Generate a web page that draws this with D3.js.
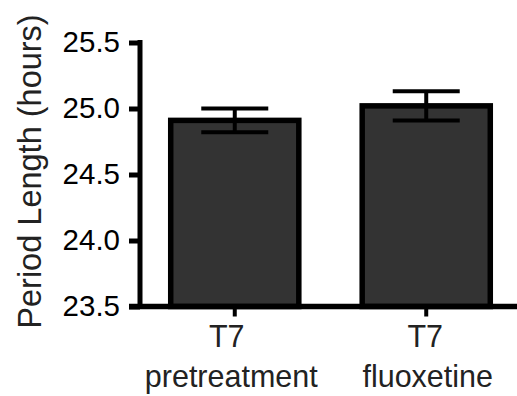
<!DOCTYPE html>
<html>
<head>
<meta charset="utf-8">
<script src="https://cdn.jsdelivr.net/npm/d3@7"></script>
<style>
  html, body { margin: 0; padding: 0; background: #fff; }
  svg { display: block; }
  text { font-family: "Liberation Sans", Arial, Helvetica, sans-serif; }
</style>
</head>
<body>
<svg id="chart" width="517" height="396"></svg>
<script>
const categories = ["T7 pretreatment", "T7 fluoxetine"];
const labelLines = [["T7", "pretreatment"], ["T7", "fluoxetine"]];
const means = [24.91, 25.02];
const sems = [0.09, 0.11];
const yTicks = [23.5, 24.0, 24.5, 25.0, 25.5];
const yLabel = "Period Length (hours)";

const svg = d3.select("#chart");

const y = d3.scaleLinear().domain([23.5, 25.5]).range([306.5, 42.5]);
const x = d3.scaleBand().domain(categories).range([142, 519])
  .paddingInner(0.331).paddingOuter(0.15);

// bars
svg.append("g").selectAll("rect").data(categories).join("rect")
  .attr("x", d => x(d))
  .attr("width", x.bandwidth())
  .attr("y", (d, i) => y(means[i]))
  .attr("height", (d, i) => y(23.5) - y(means[i]))
  .attr("fill", "#333333")
  .attr("stroke", "#000")
  .attr("stroke-width", 5.5);

// error bars
const capW = 67;
const eb = svg.append("g").attr("stroke", "#000").attr("stroke-width", 4);
categories.forEach((c, i) => {
  const cx = x(c) + x.bandwidth() / 2;
  const top = y(means[i] + sems[i]), bot = y(means[i] - sems[i]);
  eb.append("line").attr("x1", cx).attr("x2", cx).attr("y1", top).attr("y2", bot);
  eb.append("line").attr("x1", cx - capW / 2).attr("x2", cx + capW / 2).attr("y1", top).attr("y2", top);
  eb.append("line").attr("x1", cx - capW / 2).attr("x2", cx + capW / 2).attr("y1", bot).attr("y2", bot);
});

// y axis
const yAxis = d3.axisLeft(y).tickValues(yTicks).tickFormat(d3.format(".1f"))
  .tickSize(11).tickPadding(9);
const gy = svg.append("g").attr("transform", "translate(140,0)").call(yAxis);
gy.select(".domain").remove();
gy.selectAll(".tick line").attr("stroke", "#000").attr("stroke-width", 5);
gy.selectAll(".tick text").attr("fill", "#000").attr("font-size", 29.5)
  .attr("font-family", '"Liberation Sans", Arial, sans-serif');
svg.append("line").attr("x1", 140).attr("x2", 140)
  .attr("y1", y(25.5) - 2.5).attr("y2", y(23.5))
  .attr("stroke", "#000").attr("stroke-width", 5);

// x axis
svg.append("line").attr("x1", 129).attr("x2", 517)
  .attr("y1", y(23.5)).attr("y2", y(23.5))
  .attr("stroke", "#000").attr("stroke-width", 5.5);
const gx = svg.append("g");
categories.forEach((c, i) => {
  const cx = x(c) + x.bandwidth() / 2;
  gx.append("line").attr("x1", cx).attr("x2", cx)
    .attr("y1", y(23.5)).attr("y2", y(23.5) + 10)
    .attr("stroke", "#000").attr("stroke-width", 4);
  const t = gx.append("text").attr("text-anchor", "middle")
    .attr("font-size", 30.5).attr("fill", "#222");
  t.append("tspan").attr("x", cx).attr("dx", i === 0 ? -8 : -1).attr("y", 347).text(labelLines[i][0]);
  t.append("tspan").attr("x", cx).attr("dx", i === 0 ? -3.5 : 1.5).attr("y", 387).text(labelLines[i][1]);
});

// y label
svg.append("text")
  .attr("transform", "translate(41," + 171.5 + ") rotate(-90)")
  .attr("text-anchor", "middle")
  .attr("font-size", 32.5)
  .attr("fill", "#222")
  .text(yLabel);
</script>
</body>
</html>
